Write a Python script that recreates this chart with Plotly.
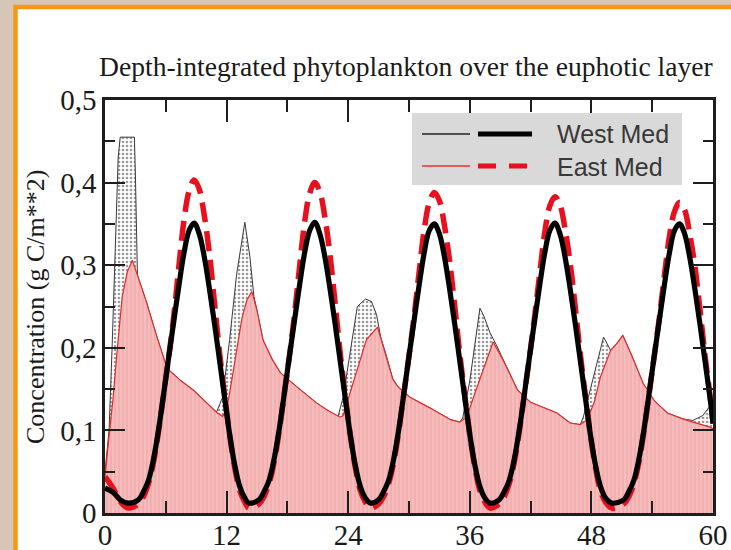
import plotly.graph_objects as go

# ---- phytoplankton (depth-integrated), months since start ----
west_phyto_x = [0.0, 0.4, 0.7, 1.0, 1.3, 1.5, 2.9, 3.0, 3.1, 3.2, 4.1, 5.0, 6.1, 6.4, 7.5, 8.7,
                10.0, 11.0, 11.6, 12.3, 13.0, 13.8, 14.3, 14.7, 15.0, 15.6, 16.5, 17.3, 18.9,
                20.9, 22.0, 23.0, 23.5, 24.2, 24.9, 25.7, 26.3, 26.8, 27.2, 27.8, 28.4, 28.9,
                30.1, 32.1, 34.1, 35.0, 35.3, 36.0, 37.0, 37.4, 38.0, 38.6, 39.3, 40.0, 40.7,
                42.0, 44.6, 45.9, 46.9, 47.2, 48.2, 49.2, 49.9, 50.5, 51.1, 52.0, 53.1, 54.2,
                55.5, 57.0, 58.0, 59.0, 59.6, 60.0]
west_phyto_y = [0.05, 0.10, 0.20, 0.33, 0.43, 0.455, 0.455, 0.41, 0.33, 0.288, 0.255, 0.218,
                0.176, 0.172, 0.160, 0.149, 0.134, 0.122, 0.140, 0.210, 0.290, 0.352, 0.310,
                0.262, 0.245, 0.209, 0.186, 0.170, 0.153, 0.133, 0.124, 0.117, 0.140, 0.197,
                0.250, 0.259, 0.256, 0.240, 0.213, 0.189, 0.162, 0.153, 0.140, 0.127, 0.113,
                0.110, 0.115, 0.160, 0.248, 0.238, 0.218, 0.204, 0.185, 0.167, 0.149, 0.134,
                0.121, 0.109, 0.107, 0.116, 0.165, 0.213, 0.197, 0.205, 0.215, 0.190, 0.157,
                0.136, 0.121, 0.114, 0.112, 0.118, 0.128, 0.120]

east_phyto_x = [0.0, 0.4, 0.8, 1.2, 1.7, 2.2, 2.7, 3.2, 4.1, 5.0, 6.1, 6.4, 7.5, 8.7, 10.0,
                11.0, 11.6, 12.0, 12.5, 13.0, 13.5, 14.0, 14.5, 15.0, 15.6, 16.5, 17.3, 18.9,
                20.9, 22.0, 23.2, 23.5, 24.5, 25.2, 25.8, 26.9, 27.8, 28.4, 28.9, 30.1, 32.1,
                34.1, 35.0, 35.7, 36.5, 37.5, 38.3, 39.3, 40.0, 40.7, 42.0, 44.6, 45.9, 46.9,
                47.6, 48.3, 48.9, 49.9, 50.5, 51.1, 52.0, 53.1, 54.2, 55.5, 57.0, 58.4, 59.7,
                60.0]
east_phyto_y = [0.045, 0.09, 0.14, 0.197, 0.262, 0.292, 0.306, 0.288, 0.255, 0.218, 0.176,
                0.172, 0.160, 0.149, 0.134, 0.122, 0.117, 0.125, 0.160, 0.197, 0.235, 0.258,
                0.268, 0.245, 0.209, 0.186, 0.170, 0.153, 0.133, 0.124, 0.116, 0.118, 0.157,
                0.185, 0.210, 0.225, 0.189, 0.162, 0.153, 0.140, 0.127, 0.113, 0.110, 0.116,
                0.145, 0.180, 0.207, 0.185, 0.167, 0.149, 0.134, 0.121, 0.109, 0.107, 0.113,
                0.135, 0.165, 0.197, 0.205, 0.215, 0.190, 0.157, 0.136, 0.121, 0.114, 0.109,
                0.104, 0.102]

# ---- seasonal forcing curves (thick lines) ----
west_med_x = [0.0, 0.8, 1.5, 2.3, 3.3, 3.8, 4.3, 4.8, 5.3, 5.8, 6.3, 6.8, 7.3, 7.8, 8.3, 8.8,
              9.3, 9.8, 10.3, 10.8, 11.3, 11.8, 12.3, 12.8, 13.3, 13.8, 14.2,
              15.2, 15.7, 16.2, 16.7, 17.2, 17.7, 18.2, 18.7, 19.2, 19.7, 20.2, 20.7,
              21.2, 21.7, 22.2, 22.7, 23.2, 23.7, 24.2, 24.7, 25.2, 25.7, 26.2,
              27.0, 27.5, 28.0, 28.5, 29.0, 29.5, 30.0, 30.5, 31.0, 31.5, 32.0, 32.5,
              33.0, 33.5, 34.0, 34.5, 35.0, 35.5, 36.0, 36.5, 37.0, 37.5, 38.0,
              38.9, 39.4, 39.9, 40.4, 40.9, 41.4, 41.9, 42.4, 42.9, 43.4, 43.9, 44.4,
              44.9, 45.4, 45.9, 46.4, 46.9, 47.4, 47.9, 48.4, 48.9, 49.4, 50.0,
              51.2, 51.7, 52.2, 52.7, 53.2, 53.7, 54.2, 54.7, 55.2, 55.7, 56.2, 56.7,
              57.2, 57.7, 58.2, 58.7, 59.2, 59.7, 60.0]
west_med_y = [0.030, 0.025, 0.016, 0.012, 0.016, 0.026, 0.040, 0.066, 0.102, 0.145, 0.190,
              0.233, 0.276, 0.315, 0.342, 0.351,
              0.338, 0.310, 0.272, 0.230, 0.185, 0.140, 0.095, 0.058, 0.032, 0.018, 0.012,
              0.016, 0.026, 0.040, 0.066, 0.102, 0.145, 0.190, 0.233, 0.276, 0.315, 0.342, 0.352,
              0.338, 0.310, 0.272, 0.230, 0.185, 0.140, 0.095, 0.058, 0.032, 0.018, 0.012,
              0.016, 0.026, 0.040, 0.066, 0.102, 0.145, 0.190, 0.233, 0.276, 0.315, 0.342, 0.350,
              0.338, 0.310, 0.272, 0.230, 0.185, 0.140, 0.095, 0.058, 0.032, 0.018, 0.012,
              0.016, 0.026, 0.040, 0.066, 0.102, 0.145, 0.190, 0.233, 0.276, 0.315, 0.342, 0.351,
              0.338, 0.310, 0.272, 0.230, 0.185, 0.140, 0.095, 0.058, 0.032, 0.018, 0.012,
              0.016, 0.026, 0.040, 0.066, 0.102, 0.145, 0.190, 0.233, 0.276, 0.315, 0.342, 0.350,
              0.338, 0.310, 0.272, 0.230, 0.185, 0.140, 0.108]

east_med_x = west_med_x
east_med_y = [0.044, 0.030, 0.014, 0.006, 0.011, 0.020, 0.036, 0.062, 0.100, 0.145, 0.190,
              0.240, 0.300, 0.355, 0.390, 0.403,
              0.392, 0.360, 0.315, 0.255, 0.195, 0.143, 0.095, 0.055, 0.027, 0.013, 0.006,
              0.011, 0.020, 0.036, 0.062, 0.100, 0.145, 0.190, 0.240, 0.298, 0.352, 0.387, 0.400,
              0.389, 0.358, 0.313, 0.255, 0.195, 0.143, 0.095, 0.055, 0.027, 0.013, 0.006,
              0.011, 0.020, 0.036, 0.062, 0.100, 0.145, 0.190, 0.238, 0.292, 0.343, 0.376, 0.388,
              0.378, 0.348, 0.306, 0.252, 0.194, 0.143, 0.095, 0.055, 0.027, 0.013, 0.006,
              0.011, 0.020, 0.036, 0.062, 0.100, 0.145, 0.190, 0.238, 0.290, 0.340, 0.372, 0.383,
              0.373, 0.344, 0.303, 0.250, 0.193, 0.143, 0.095, 0.055, 0.027, 0.013, 0.006,
              0.011, 0.020, 0.036, 0.062, 0.100, 0.145, 0.190, 0.236, 0.287, 0.335, 0.365, 0.376,
              0.367, 0.338, 0.300, 0.248, 0.192, 0.143, 0.110]

x_tick_vals = [0, 12, 24, 36, 48, 60]
x_tick_text = ["0", "12", "24", "36", "48", "60"]
x_minor_vals = [6, 18, 30, 42, 54]
y_tick_vals = [0, 0.1, 0.2, 0.3, 0.4, 0.5]
y_tick_text = ["0", "0,1", "0,2", "0,3", "0,4", "0,5"]
y_minor_vals = [0.05, 0.15, 0.25, 0.35, 0.45]

legend_names = ["West Med", "East Med"]

SERIF = "Liberation Serif"
SANS = "Liberation Sans"
AX = "#1e1e1e"

fig = go.Figure()

fig.add_trace(go.Scatter(
    x=west_phyto_x, y=west_phyto_y, mode="lines", fill="tozeroy",
    line=dict(color="#3a3a3a", width=1),
    fillpattern=dict(shape=".", bgcolor="white", fgcolor="#9a9a9a",
                     size=4, solidity=0.35, fillmode="replace"),
    showlegend=False, hoverinfo="skip"))

fig.add_trace(go.Scatter(
    x=east_phyto_x, y=east_phyto_y, mode="lines", fill="tozeroy",
    line=dict(color="#e02a2a", width=1.2),
    fillpattern=dict(shape="|", bgcolor="#f7bcbc", fgcolor="#eca2a2",
                     size=4, solidity=0.25, fillmode="replace"),
    showlegend=False, hoverinfo="skip"))

fig.add_trace(go.Scatter(
    x=east_med_x, y=east_med_y, mode="lines", line_shape="spline",
    line=dict(color="#e8101c", width=5.5, dash="20px,9px"),
    name=legend_names[1], showlegend=False))

fig.add_trace(go.Scatter(
    x=west_med_x, y=west_med_y, mode="lines", line_shape="spline",
    line=dict(color="#000000", width=5.2),
    name=legend_names[0], showlegend=False))

# plot-area geometry in pixels, used to place frame and legend in paper units
L, R, T, B, W, H = 105, 18, 100, 37, 731, 550
pw, ph = W - L - R, H - T - B


def px(x):
    return (x - L) / pw


def py(y):
    return (H - B - y) / ph


shapes = [
    # white card with orange border
    dict(type="rect", xref="paper", yref="paper", layer="below",
         x0=px(15.5), x1=px(760), y0=py(580), y1=py(7),
         fillcolor="white", line=dict(color="#f59a10", width=4.5)),
    # legend box
    dict(type="rect", xref="paper", yref="paper",
         x0=px(412), x1=px(682), y0=py(185), y1=py(113),
         fillcolor="#d9d9d9", line=dict(width=0)),
    dict(type="line", xref="paper", yref="paper", x0=px(422), x1=px(470),
         y0=py(134), y1=py(134), line=dict(color="#222", width=1.5)),
    dict(type="line", xref="paper", yref="paper", x0=px(478), x1=px(532),
         y0=py(134), y1=py(134), line=dict(color="#000", width=5)),
    dict(type="line", xref="paper", yref="paper", x0=px(422), x1=px(470),
         y0=py(166), y1=py(166), line=dict(color="#e83030", width=1.5)),
    dict(type="line", xref="paper", yref="paper", x0=px(478), x1=px(532),
         y0=py(166), y1=py(166), line=dict(color="#e8101c", width=5, dash="18px,13px")),
]

annotations = [
    dict(text="Depth-integrated phytoplankton over the euphotic layer",
         xref="paper", yref="paper", x=px(406), y=py(66), showarrow=False,
         xanchor="center", yanchor="middle",
         font=dict(family=SERIF, size=27.6, color="#1a1a1a")),
    dict(text="Concentration (g C/m**2)", textangle=-90,
         xref="paper", yref="paper", x=px(35), y=py(307), showarrow=False,
         xanchor="center", yanchor="middle",
         font=dict(family=SERIF, size=26, color="#1a1a1a")),
    dict(text=legend_names[0], xref="paper", yref="paper", x=px(555), y=py(134),
         showarrow=False, xanchor="left", yanchor="middle",
         font=dict(family=SANS, size=25, color="#383838")),
    dict(text=legend_names[1], xref="paper", yref="paper", x=px(555), y=py(167),
         showarrow=False, xanchor="left", yanchor="middle",
         font=dict(family=SANS, size=25, color="#383838")),
]

axis_common = dict(
    showgrid=False, zeroline=False, showline=True, linewidth=2.5, linecolor=AX,
    mirror="ticks", ticks="inside", tickwidth=2, tickcolor=AX,
    tickfont=dict(family=SERIF, size=29, color="#1a1a1a"), automargin=False,
)

fig.update_layout(
    width=W, height=H,
    margin=dict(l=L, r=R, t=T, b=B, pad=0),
    paper_bgcolor="#d5c6b7", plot_bgcolor="white",
    shapes=shapes, annotations=annotations, showlegend=False,
    xaxis=dict(range=[0, 60], tickmode="array", tickvals=x_tick_vals,
               ticktext=x_tick_text, ticklen=22, ticklabelstandoff=-6,
               minor=dict(tickmode="array", tickvals=x_minor_vals, ticks="inside",
                          ticklen=12, tickwidth=2, tickcolor=AX),
               **axis_common),
    yaxis=dict(range=[0, 0.5], tickmode="array", tickvals=y_tick_vals,
               ticktext=y_tick_text, ticklen=20,
               minor=dict(tickmode="array", tickvals=y_minor_vals, ticks="inside",
                          ticklen=10, tickwidth=2, tickcolor=AX),
               **axis_common),
)

fig.write_html("out.html")
